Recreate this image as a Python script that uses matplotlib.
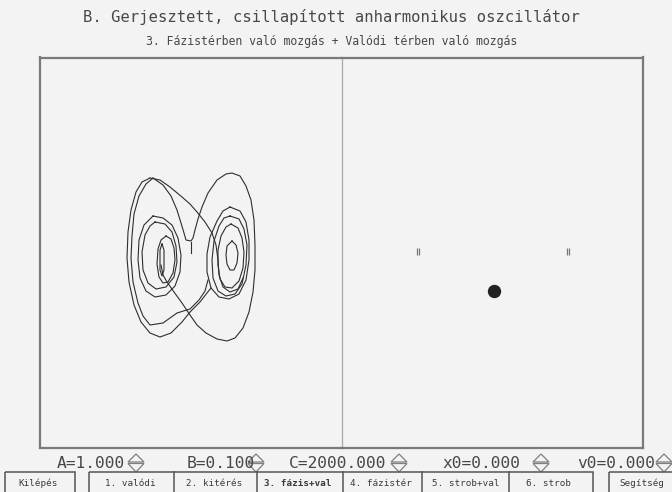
import numpy as np
import matplotlib
matplotlib.use("Agg")
import matplotlib.pyplot as plt
from matplotlib.patches import Rectangle, Polygon

# phase-space trajectory pieces (x, v)
left_small = [(-3.1, 1.9), (-2.6, 1.6), (-2.3, 0.7), (-2.2, -0.5), (-2.4, -1.8), (-2.9, -2.7),
              (-3.4, -2.8), (-3.8, -2.2), (-4.0, -0.9), (-3.9, 0.6), (-3.6, 1.5), (-3.1, 1.9)]
left_inner = [(-3.5, 1.1), (-3.3, 0.5), (-3.3, -1.5), (-3.5, -2.1), (-3.7, -1.5), (-3.7, 0.5), (-3.5, 1.1)]
left_mid = [(-4.4, 3.9), (-3.4, 3.7), (-2.5, 3.0), (-1.9, 1.7), (-1.6, 0.0), (-1.7, -1.7), (-2.2, -3.1),
            (-3.1, -4.0), (-4.2, -4.2), (-5.1, -3.6), (-5.7, -2.3), (-5.9, -0.5), (-5.8, 1.5), (-5.3, 3.0), (-4.4, 3.9)]
left_mid2 = [(-4.2, 3.3), (-3.2, 3.1), (-2.5, 2.3), (-2.1, 0.9), (-2.0, -0.7), (-2.3, -2.2), (-3.1, -3.2),
             (-4.1, -3.4), (-4.9, -2.8), (-5.4, -1.5), (-5.5, 0.3), (-5.2, 2.0), (-4.7, 2.9), (-4.2, 3.3)]
right_tiny = [(3.5, 1.4), (3.9, 1.0), (4.1, 0.2), (4.0, -0.8), (3.7, -1.5), (3.3, -1.5), (3.0, -0.9),
              (2.9, 0.0), (3.0, 0.9), (3.5, 1.4)]
right_mid = [(3.4, 3.1), (4.1, 2.7), (4.5, 1.7), (4.7, 0.3), (4.6, -1.3), (4.2, -2.6), (3.5, -3.3),
             (2.8, -3.2), (2.3, -2.4), (2.1, -1.0), (2.1, 0.5), (2.4, 1.9), (2.9, 2.8), (3.4, 3.1)]
right_mid2 = [(3.3, 3.9), (4.2, 3.6), (4.7, 2.6), (5.0, 1.0), (4.9, -1.0), (4.5, -2.9), (3.8, -3.9),
              (2.9, -4.1), (2.1, -3.6), (1.6, -2.3), (1.5, -0.5), (1.7, 1.4), (2.2, 2.9), (2.7, 3.7), (3.3, 3.9)]
right_big = [(3.3, 4.8), (4.3, 4.4), (4.9, 3.3), (5.2, 1.5), (5.2, -0.5), (4.9, -2.5), (4.2, -3.9),
             (3.2, -4.4), (2.2, -4.2), (1.4, -3.3), (1.0, -1.7), (1.0, 0.1), (1.3, 1.8), (2.0, 3.4),
             (2.6, 4.4), (3.3, 4.8)]
outer_left_a = [(-4.7, 7.7), (-5.5, 7.3), (-6.1, 6.3), (-6.6, 4.5), (-6.9, 2.3), (-7.0, -0.3), (-6.8, -2.7),
                (-6.3, -5.0), (-5.6, -6.7), (-4.7, -7.8), (-3.7, -8.2), (-2.6, -7.8), (-1.5, -6.7),
                (-0.7, -5.7), (0.3, -4.7), (1.0, -3.8), (1.4, -3.3)]
outer_left_b = [(-4.4, 7.7), (-5.1, 7.1), (-5.8, 5.9), (-6.3, 4.1), (-6.5, 1.9), (-6.6, -0.3), (-6.4, -2.7),
                (-5.9, -4.8), (-5.4, -6.1), (-4.7, -7.0), (-3.4, -6.8), (-2.0, -5.8), (-0.7, -5.4),
                (0.2, -4.5), (0.8, -3.6), (1.1, -2.5)]
upper_diag = [(-4.7, 7.7), (-3.7, 7.5), (-2.7, 6.8), (-1.5, 5.8), (-0.7, 5.1), (0.0, 4.3), (0.8, 3.3),
              (1.5, 2.2), (1.9, 1.0), (2.1, -0.5), (2.2, -2.0), (2.6, -3.2), (3.3, -3.7), (4.1, -3.4), (4.6, -2.3)]
cusp_and_right = [(-4.4, 7.7), (-3.4, 7.0), (-2.6, 5.9), (-2.0, 4.5), (-1.6, 3.2), (-1.3, 2.2), (-1.1, 1.5),
                  (-0.6, 1.4), (-0.4, 1.7), (-0.2, 2.5), (0.1, 3.6), (0.5, 4.8), (1.1, 6.2), (2.0, 7.5),
                  (2.9, 8.1), (3.5, 8.2), (4.3, 7.9), (4.9, 6.9), (5.4, 5.5), (5.7, 3.5), (5.8, 1.0),
                  (5.8, -1.5), (5.6, -3.7), (5.2, -5.7), (4.6, -7.3), (3.8, -8.3), (3.0, -8.6), (2.0, -8.4),
                  (0.9, -7.8), (0.0, -7.0), (-0.7, -6.0), (-1.5, -4.8), (-2.3, -3.7), (-3.0, -2.7),
                  (-3.4, -2.0), (-3.6, -1.0)]
start_tick = [(-0.6, 0.2), (-0.6, 1.3)]

# right panel: well markers and the ball
well_x = [-7.5, 7.5]
well_y = 0.3
ball_x, ball_y = 0.1, -3.6

title = "B. Gerjesztett, csillapított anharmonikus oszcillátor"
subtitle = "3. Fázistérben való mozgás + Valódi térben való mozgás"
params = ["A=1.000", "B=0.100", "C=2000.000", "x0=0.000", "v0=0.000"]
buttons = ["Kilépés", "1. valódi", "2. kitérés", "3. fázis+val", "4. fázistér",
           "5. strob+val", "6. strob", "Segítség"]

bg = "#f3f3f3"
ink = "#2e2e2e"
W, H = 672, 492
fig = plt.figure(figsize=(W / 100, H / 100), dpi=100, facecolor=bg)

def fx(px): return px / W
def fy(py): return 1 - py / H

top, bot = 57.5, 448
axl = fig.add_axes([fx(40), fy(bot), fx(342) - fx(40), fy(top) - fy(bot)], facecolor=bg)
axr = fig.add_axes([fx(342), fy(bot), fx(643) - fx(342), fy(top) - fy(bot)], facecolor=bg)

axl.set_xlim(-15.7, 14.5)
axl.set_ylim(-19.3, 19.75)
axr.set_xlim(-15.1, 15.0)
axr.set_ylim(-19.3, 19.75)

for curve in [left_small, left_inner, left_mid, left_mid2, right_tiny, right_mid, right_mid2, right_big,
              outer_left_a, outer_left_b, upper_diag, cusp_and_right, start_tick]:
    c = np.array(curve)
    axl.plot(c[:, 0], c[:, 1], color=ink, lw=0.8, solid_joinstyle="round")

for wx in well_x:
    axr.vlines([wx - 0.13, wx + 0.13], well_y - 0.35, well_y + 0.35, color="#777777", lw=0.9)
axr.plot(ball_x, ball_y, "o", ms=8.6, color="#222222")

for ax in (axl, axr):
    ax.set_xticks([])
    ax.set_yticks([])
    for s in ax.spines.values():
        s.set_color("#7a7a7a")
        s.set_linewidth(1.6)
axl.spines["right"].set_visible(False)
axr.spines["left"].set_color("#a8a8a8")
axr.spines["left"].set_linewidth(0.9)

# ui layer in pixel coordinates
ui = fig.add_axes([0, 0, 1, 1], facecolor="none")
ui.set_xlim(0, W)
ui.set_ylim(H, 0)
ui.axis("off")

txt = "#484848"
ui.text(331, 17, title, ha="center", va="center", family="DejaVu Sans Mono", fontsize=11.2, color=txt)
ui.text(332, 42, subtitle, ha="center", va="center", family="DejaVu Sans Mono", fontsize=8.3, color=txt)

param_x = [57, 187, 289, 442, 577]
icon_x = [136, 256, 399, 541, 664]
for label, px, ix in zip(params, param_x, icon_x):
    ui.text(px, 463, label, ha="left", va="center", family="DejaVu Sans Mono", fontsize=11.7, color=txt)
    ui.add_patch(Polygon([(ix - 8, 462), (ix + 8, 462), (ix, 454)], closed=True, fill=False,
                         ec="#808080", lw=0.9))
    ui.add_patch(Polygon([(ix - 8, 463.5), (ix + 8, 463.5), (ix, 472)], closed=True, fill=False,
                         ec="#808080", lw=0.9))

box_col = "#555555"
ui.add_patch(Rectangle((5, 472), 70, 30, fill=False, ec=box_col, lw=1.1))
ui.add_patch(Rectangle((89, 472), 504, 30, fill=False, ec=box_col, lw=1.1))
ui.add_patch(Rectangle((609, 472), 80, 30, fill=False, ec=box_col, lw=1.1))
for dx in [174, 257, 343, 422, 509]:
    ui.plot([dx, dx], [472, 492], color=box_col, lw=1.1)

button_x = [38, 130, 214, 298, 381, 466, 549, 642]
for label, bx in zip(buttons, button_x):
    ui.text(bx, 483, label, ha="center", va="center", family="DejaVu Sans Mono", fontsize=6.7,
            color="#3a3a3a", fontweight="bold" if label.startswith("3.") else "normal")

fig.savefig("out.png", dpi=100, facecolor=bg)
